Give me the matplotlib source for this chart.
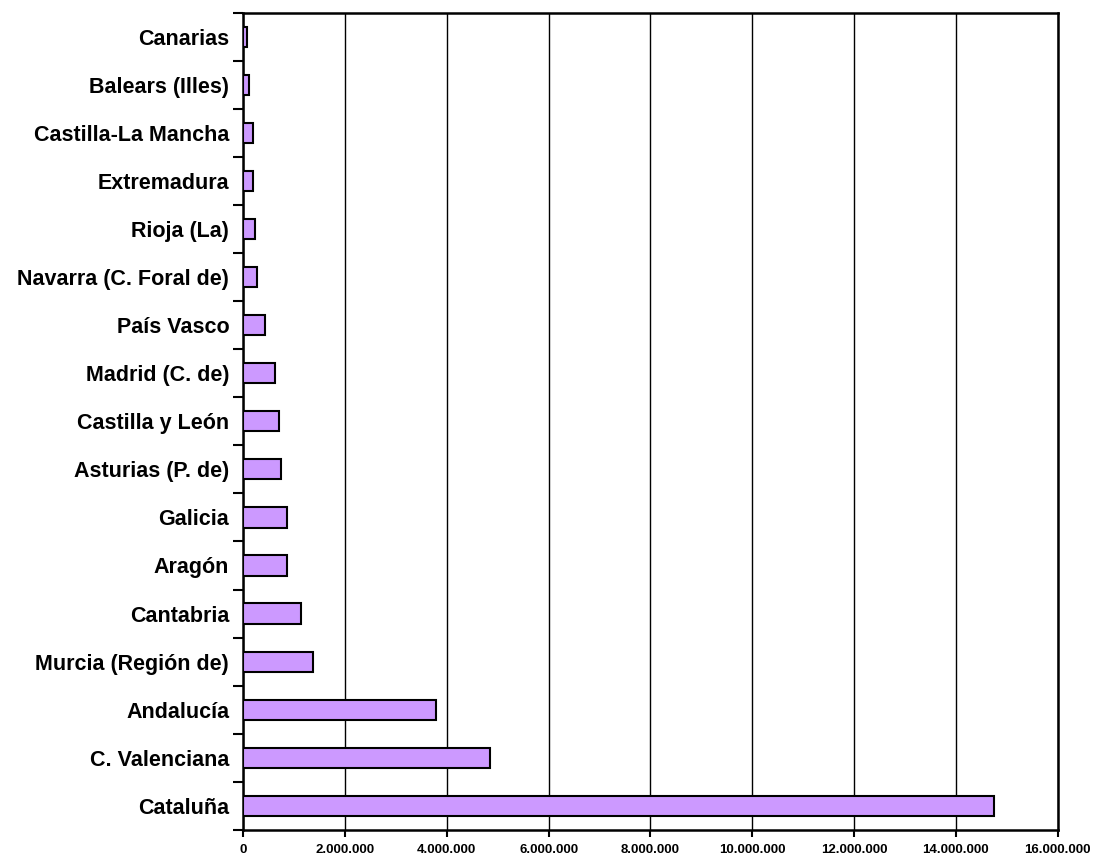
import numpy as np
import matplotlib
matplotlib.use("Agg")
import matplotlib.pyplot as plt
from matplotlib.ticker import FuncFormatter, FixedLocator

regions = ["Cataluña", "C. Valenciana", "Andalucía", "Murcia (Región de)",
           "Cantabria", "Aragón", "Galicia", "Asturias (P. de)",
           "Castilla y León", "Madrid (C. de)", "País Vasco",
           "Navarra (C. Foral de)", "Rioja (La)", "Extremadura",
           "Castilla-La Mancha", "Balears (Illes)", "Canarias"]
values = [14750000, 4850000, 3790000, 1370000,
          1130000, 865000, 865000, 750000,
          710000, 620000, 440000,
          280000, 240000, 200000,
          200000, 120000, 80000]
x_ticks = [0, 2000000, 4000000, 6000000, 8000000,
           10000000, 12000000, 14000000, 16000000]

plt.rcParams["font.family"] = ["Liberation Sans", "DejaVu Sans"]
plt.rcParams["font.weight"] = "bold"

fig = plt.figure(figsize=(10.95, 8.59), dpi=100)
ax = fig.add_axes([0.222, 0.034, 0.744, 0.951])

pos = np.arange(len(regions))
ax.barh(pos, values, height=0.42, color="#CC99FF", edgecolor="black",
        linewidth=1.5, zorder=3)

ax.set_xlim(0, 16000000)
ax.set_ylim(-0.5, len(regions) - 0.5)

ax.set_xticks(x_ticks)
ax.xaxis.set_major_formatter(FuncFormatter(lambda v, p: f"{int(v):,}".replace(",", ".")))
ax.grid(axis="x", color="black", linewidth=1.0, zorder=0)
ax.tick_params(axis="x", direction="out", length=5, width=1.5,
               labelsize=9.5, pad=5)

ax.set_yticks(pos)
ax.set_yticklabels(regions)
ax.tick_params(axis="y", which="major", length=0, labelsize=15.5, pad=10)
ax.yaxis.set_minor_locator(FixedLocator(np.arange(-0.5, len(regions), 1.0)))
ax.tick_params(axis="y", which="minor", direction="out", length=7, width=1.5)

for s in ax.spines.values():
    s.set_linewidth(1.8)
    s.set_color("black")

fig.savefig("out.png", dpi=100)
